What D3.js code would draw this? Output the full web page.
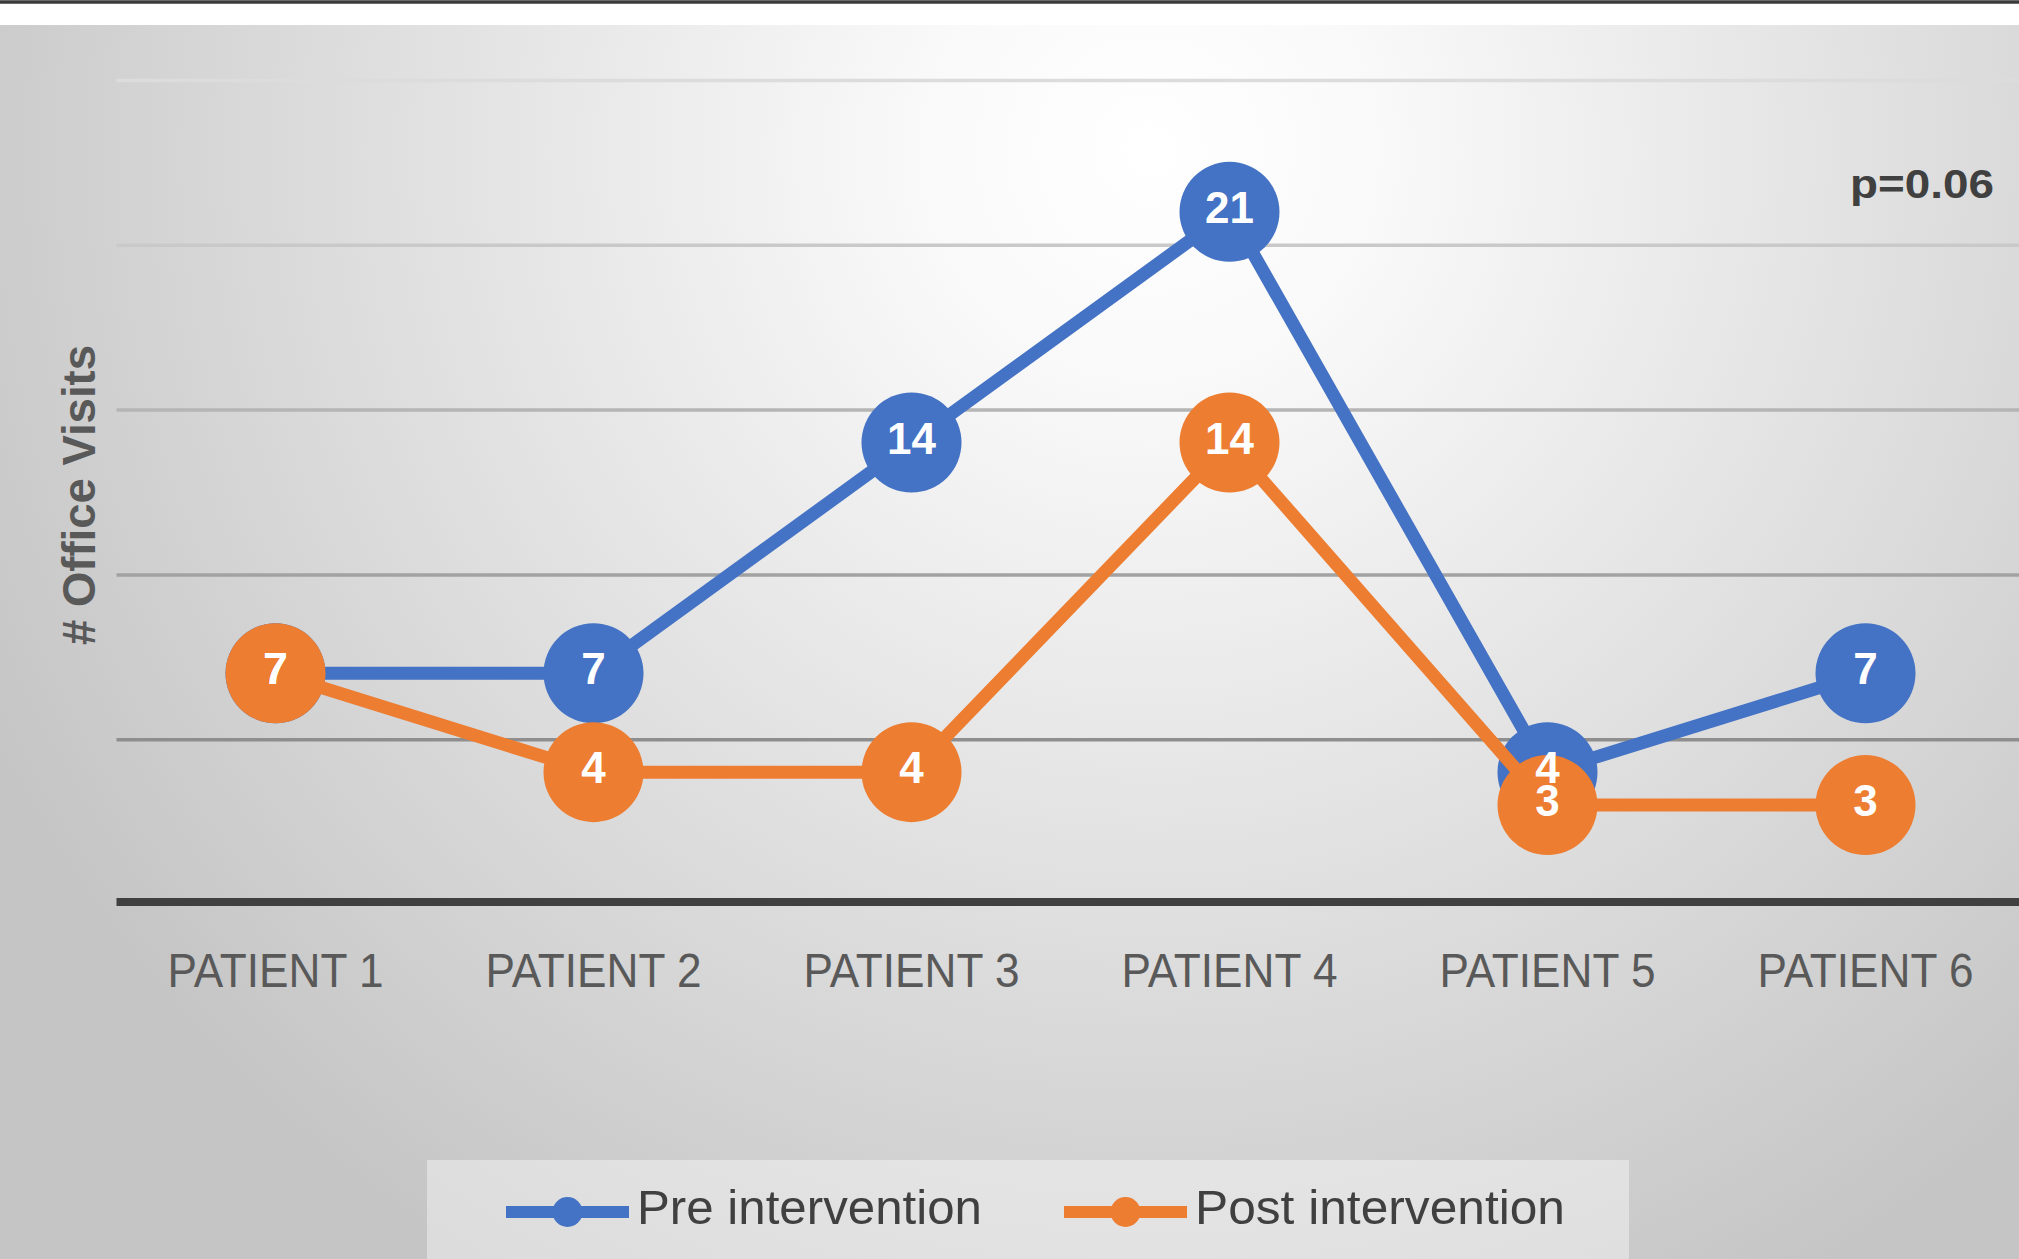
<!DOCTYPE html>
<html>
<head>
<meta charset="utf-8">
<script src="https://cdn.jsdelivr.net/npm/d3@7"></script>
<style>
html,body{margin:0;padding:0;background:#fff;overflow:hidden;}
svg{display:block;}
</style>
</head>
<body>
<svg id="chart" width="2019" height="1259"></svg>
<script>
// ---- data ----
const categories = ["PATIENT 1","PATIENT 2","PATIENT 3","PATIENT 4","PATIENT 5","PATIENT 6"];
const preValues  = [7, 7, 14, 21, 4, 7];
const postValues = [7, 4, 4, 14, 3, 3];
const seriesNames = ["Pre intervention","Post intervention"];
const gridTicks = [5, 10, 15, 20, 25];
const yTitle = "# Office Visits";
const annotation = "p=0.06";

// ---- layout ----
const W = 2019, H = 1259;
const svg = d3.select("#chart");
const defs = svg.append("defs");
const grad = defs.append("radialGradient").attr("id","bg")
  .attr("gradientUnits","userSpaceOnUse").attr("cx",1150).attr("cy",150).attr("r",1300);
grad.append("stop").attr("offset",0).attr("stop-color","#ffffff");
grad.append("stop").attr("offset",0.18).attr("stop-color","#f9f9f9");
grad.append("stop").attr("offset",1).attr("stop-color","#c5c5c5");

svg.append("rect").attr("x",0).attr("y",0).attr("width",W).attr("height",H).attr("fill","#fff");
svg.append("rect").attr("x",0).attr("y",25).attr("width",W).attr("height",H-25).attr("fill","url(#bg)");
svg.append("line").attr("x1",0).attr("x2",W).attr("y1",2).attr("y2",2)
  .attr("stroke","#3a3a3a").attr("stroke-width",3.5);

const plotLeft = 116.5, step = 318;
const x = d3.scaleBand().domain(categories).range([plotLeft, plotLeft + step*categories.length]).padding(0);
const xc = d => x(d) + x.bandwidth()/2;
const y = d3.scaleLinear().domain([0,25]).range([904, 80]);

const colors = ["#4472C4", "#ED7D31"];
const gridColor = d3.scaleLinear().domain([5,25]).range(["#8e8e8e","#dcdcdc"]);

// gridlines
const gridG = svg.append("g").attr("transform",`translate(${plotLeft},0)`)
  .call(d3.axisLeft(y).tickValues(gridTicks).tickSize(-(W-plotLeft)).tickFormat(""));
gridG.select(".domain").remove();
gridG.selectAll(".tick line").attr("stroke",d=>gridColor(d)).attr("stroke-width",3.5);

// axis line
svg.append("line").attr("x1",plotLeft).attr("x2",W).attr("y1",y(0)-2).attr("y2",y(0)-2)
  .attr("stroke","#404040").attr("stroke-width",8);

// x labels
const xAxisG = svg.append("g").attr("transform",`translate(0,${y(0)})`)
  .call(d3.axisBottom(x).tickSize(0).tickPadding(0));
xAxisG.select(".domain").remove();
xAxisG.selectAll(".tick text")
  .attr("y",83).attr("dy",0)
  .attr("font-family","Liberation Sans, Arial, sans-serif")
  .attr("font-size",49).attr("fill","#595959")
  .attr("textLength",216).attr("lengthAdjust","spacingAndGlyphs");

// y title
svg.append("text").attr("transform","translate(95,495) rotate(-90)")
  .attr("text-anchor","middle")
  .attr("font-family","Liberation Sans, Arial, sans-serif").attr("font-weight","bold")
  .attr("font-size",46).attr("fill","#595959")
  .attr("textLength",300).attr("lengthAdjust","spacingAndGlyphs")
  .text(yTitle);

// annotation
svg.append("text").attr("x",1850).attr("y",198)
  .attr("font-family","Liberation Sans, Arial, sans-serif").attr("font-weight","bold")
  .attr("font-size",40).attr("fill","#404040")
  .attr("textLength",144).attr("lengthAdjust","spacingAndGlyphs")
  .text(annotation);

// series
const series = [preValues, postValues];
const line = d3.line().x((d,i)=>xc(categories[i])).y(d=>y(d));
series.forEach((vals, si) => {
  const g = svg.append("g");
  g.append("path").datum(vals).attr("d",line).attr("fill","none")
    .attr("stroke",colors[si]).attr("stroke-width",13).attr("stroke-linejoin","round");
  g.selectAll("circle").data(vals).join("circle")
    .attr("cx",(d,i)=>xc(categories[i])).attr("cy",d=>y(d)).attr("r",50)
    .attr("fill",colors[si]);
});
series.forEach((vals, si) => {
  svg.append("g").selectAll("text").data(vals).join("text")
    .attr("x",(d,i)=>xc(categories[i])).attr("y",d=>y(d)+11)
    .attr("text-anchor","middle")
    .attr("font-family","Liberation Sans, Arial, sans-serif").attr("font-weight","bold")
    .attr("font-size",44).attr("fill","#ffffff")
    .text(d=>d);
});

// legend
const lg = svg.append("g");
lg.append("rect").attr("x",427).attr("y",1160).attr("width",1202).attr("height",120)
  .attr("fill","#ffffff").attr("fill-opacity",0.4);
const legendItems = [
  {lx1:506, lx2:629, tx:637, tw:345},
  {lx1:1064, lx2:1187, tx:1195, tw:370}
];
seriesNames.forEach((name, i) => {
  const it = legendItems[i];
  lg.append("line").attr("x1",it.lx1).attr("x2",it.lx2).attr("y1",1212).attr("y2",1212)
    .attr("stroke",colors[i]).attr("stroke-width",12);
  lg.append("circle").attr("cx",(it.lx1+it.lx2)/2).attr("cy",1212).attr("r",15).attr("fill",colors[i]);
  lg.append("text").attr("x",it.tx).attr("y",1224)
    .attr("font-family","Liberation Sans, Arial, sans-serif")
    .attr("font-size",49).attr("fill","#404040")
    .attr("textLength",it.tw).attr("lengthAdjust","spacingAndGlyphs")
    .text(name);
});
</script>
</body>
</html>
